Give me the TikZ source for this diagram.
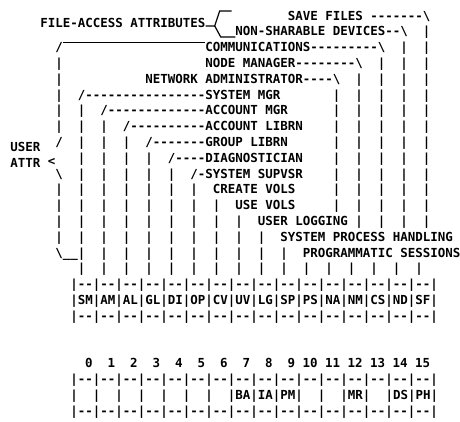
\documentclass[tikz,border=0pt]{standalone}
\usepackage{fontspec}
\newfontfamily\asciifont{DejaVu Sans Mono}[Ligatures=TeXOff]
\tikzset{
  ascii/.style={anchor=base west, inner sep=0pt, font=\asciifont\bfseries\fontsize{12.46}{15}\selectfont},
  num/.style={ascii, anchor=base east},
  brace/.style={line width=1.2pt},
}
\newcommand{\bs}{\textbackslash}

\begin{document}
\begin{tikzpicture}[x=1pt,y=1pt,yscale=-1,xscale=1]
\useasboundingbox (0,0) rectangle (460,421);

% Text Node
\draw (287.75,20) node (savef) [ascii] {SAVE FILES -------\bs};
% Text Node
\draw (40.25,27.9) node (fa) [ascii] {FILE-ACCESS ATTRIBUTES};
% Text Node
\draw (235.25,35.8) node (nonsh) [ascii] {NON-SHARABLE DEVICES--\bs};
% Text Node
\draw (205.25,51.6) node (comm) [ascii] {COMMUNICATIONS---------\bs};
% Text Node
\draw (205.25,67.4) node (nodem) [ascii] {NODE MANAGER--------\bs};
% Text Node
\draw (145.25,83.2) node (netadm) [ascii] {NETWORK ADMINISTRATOR----\bs};
% Text Node
\draw (77.75,99) node (sysmgr) [ascii] {/----------------SYSTEM MGR};
% Text Node
\draw (100.25,114.8) node (accmgr) [ascii] {/-------------ACCOUNT MGR};
% Text Node
\draw (122.75,130.6) node (acclib) [ascii] {/----------ACCOUNT LIBRN};
% Text Node
\draw (145.25,146.4) node (grplib) [ascii] {/-------GROUP LIBRN};
% Text Node
\draw (167.75,162.2) node (diag) [ascii] {/----DIAGNOSTICIAN};
% Text Node
\draw (190.25,178) node (supvsr) [ascii] {/-SYSTEM SUPVSR};
% Text Node
\draw (212.75,193.8) node (crvols) [ascii] {CREATE VOLS};
% Text Node
\draw (235.25,209.6) node (usevols) [ascii] {USE VOLS};
% Text Node
\draw (257.75,225.4) node (logging) [ascii] {USER LOGGING};
% Text Node
\draw (280.25,241.2) node (proch) [ascii] {SYSTEM PROCESS HANDLING};
% Text Node
\draw (302.75,257) node (progs) [ascii] {PROGRAMMATIC SESSIONS};

% user attr brace
\draw (10.25,151.9) node (user) [ascii] {USER};
\draw (10.25,167.7) node (attr) [ascii] {ATTR};
\draw (55.25,51.6) node (ubtop) [ascii] {/};
\draw (55.25,146.4) node (ubup) [ascii] {/};
\draw (47.75,165.4) node (ubtip) [ascii] {<};
\draw (55.25,178) node (ubdown) [ascii] {\bs};
\draw (55.25,257) node (ubbot) [ascii] {\bs\_\_};
\draw [brace] (ubtop.north east) -- (ubtop.north east -| comm.west);

% file-access brace
\draw [brace] (fa.base east) ++(0,-2) -- ++(9,0) coordinate (fork) -- ++(5,-15) -- ++(12,0);
\draw [brace] (fork) -- ++(6,11) coordinate (lowk) -- (lowk -| nonsh.west);

% vertical bars
\foreach \c/\a/\b in {1/7/17, 4/8/17, 7/9/17, 10/10/17, 13/11/17, 16/12/17, 19/13/17, 22/14/17, 25/15/17, 28/16/17, 31/17/17, 35/6/13, 38/5/14, 41/4/14, 44/3/14, 47/2/14, -2/4/8, -2/12/15}
  \foreach \r in {\a,...,\b}
    \draw ({70.25+7.5*\c},{4.2+15.8*\r}) node (p\c-\r) [ascii] {|};
\foreach \c in {34,37,...,46}
  \draw ({70.25+7.5*\c},272.8) node (p\c-17) [ascii] {|};

% field table
\draw (70.25,288.6) node (gtop) [ascii] {|--|--|--|--|--|--|--|--|--|--|--|--|--|--|--|--|};
\draw (70.25,304.4) node (gmid) [ascii] {|SM|AM|AL|GL|DI|OP|CV|UV|LG|SP|PS|NA|NM|CS|ND|SF|};
\draw (70.25,320.2) node (gbot) [ascii] {|--|--|--|--|--|--|--|--|--|--|--|--|--|--|--|--|};

% bit table
\foreach \k in {0,...,15}
  \draw ({92.75+22.5*\k},367.6) node (n\k) [num] {\k};
\draw (70.25,383.4) node (btop) [ascii] {|--|--|--|--|--|--|--|--|--|--|--|--|--|--|--|--|};
\draw (70.25,399.2) node (bmid) [ascii] {|~~|~~|~~|~~|~~|~~|~~|BA|IA|PM|~~|~~|MR|~~|DS|PH|};
\draw (70.25,415) node (bbot) [ascii] {|--|--|--|--|--|--|--|--|--|--|--|--|--|--|--|--|};

\end{tikzpicture}
\end{document}
